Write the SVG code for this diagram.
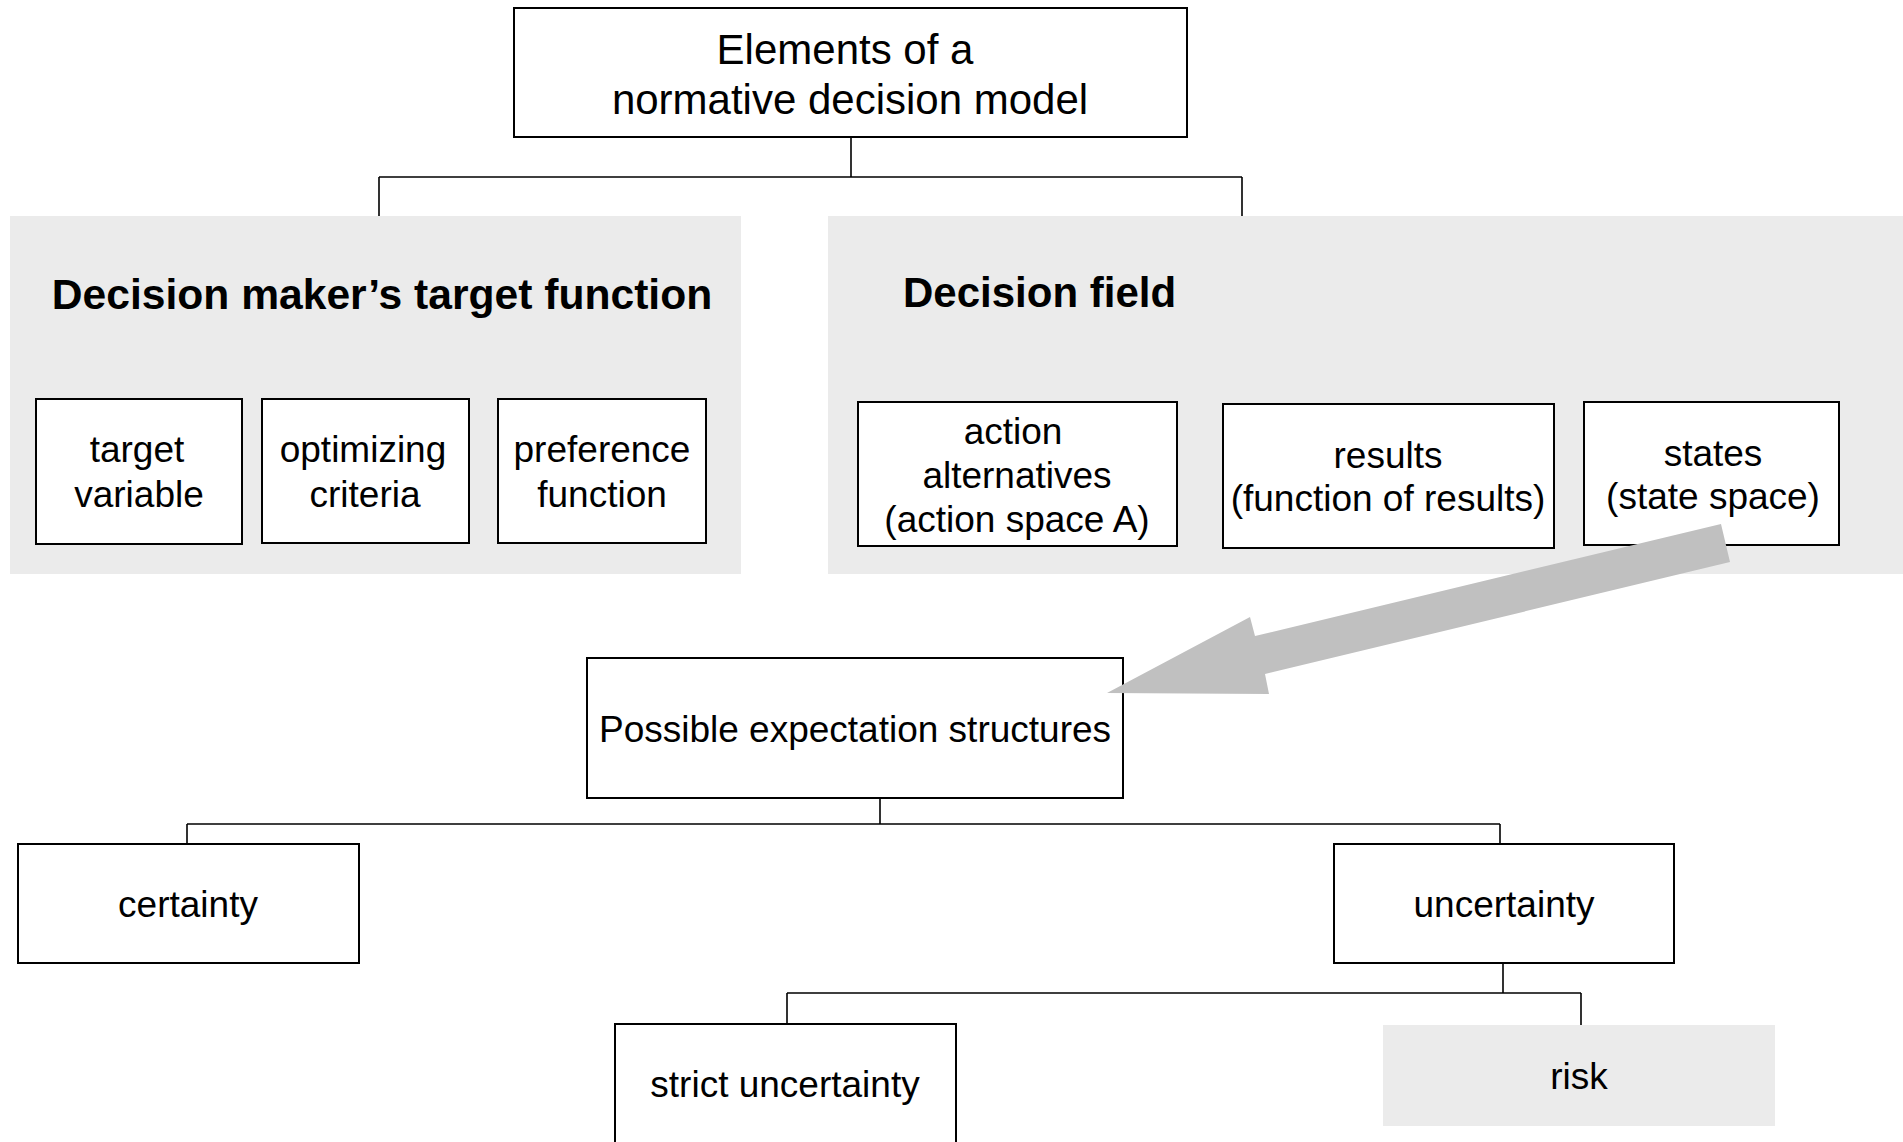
<svg xmlns="http://www.w3.org/2000/svg" width="1903" height="1142" viewBox="0 0 1903 1142">
<style>
.bg{fill:#ffffff}
.box{fill:#ffffff;stroke:#000000;stroke-width:2}
.panel{fill:#ebebeb;stroke:none}
.t{font-family:"Liberation Sans",Arial,sans-serif;font-size:37px;fill:#000000;text-anchor:middle}
.big{font-family:"Liberation Sans",Arial,sans-serif;font-size:42px;fill:#000000;text-anchor:middle}
.title{font-family:"Liberation Sans",Arial,sans-serif;font-size:42px;font-weight:bold;fill:#000000}
.line{fill:none;stroke:#000000;stroke-width:1.6}
.arrow{fill:#c0c0c0;stroke:none}
</style>
<rect class="bg" x="0" y="0" width="1903" height="1142"/>

<g id="connectors">
  <path class="line" d="M851,137 V177 M379,177 H1242 M379,177 V216 M1242,177 V216"/>
  <path class="line" d="M880,798 V824 M187,824 H1500 M187,824 V844 M1500,824 V844"/>
  <path class="line" d="M1503,963 V993 M787,993 H1581 M787,993 V1024 M1581,993 V1025"/>
</g>

<g id="node-root">
  <rect class="box" x="514" y="8" width="673" height="129"/>
  <text class="big" x="845" y="64">Elements of a</text>
  <text class="big" x="850" y="114">normative decision model</text>
</g>

<g id="node-target-function">
  <rect class="panel" x="10" y="216" width="731" height="358"/>
  <text class="title" x="382" y="309" text-anchor="middle" style="font-size:42.6px">Decision maker’s target function</text>
</g>
<g id="node-target-variable">
  <rect class="box" x="36" y="399" width="206" height="145"/>
  <text class="t" x="137" y="462">target </text>
  <text class="t" x="139" y="507">variable</text>
</g>
<g id="node-optimizing-criteria">
  <rect class="box" x="262" y="399" width="207" height="144"/>
  <text class="t" x="363" y="462">optimizing </text>
  <text class="t" x="365" y="507">criteria</text>
</g>
<g id="node-preference-function">
  <rect class="box" x="498" y="399" width="208" height="144"/>
  <text class="t" x="602" y="462">preference</text>
  <text class="t" x="602" y="507">function</text>
</g>

<g id="node-decision-field">
  <rect class="panel" x="828" y="216" width="1075" height="358"/>
  <text class="title" x="903" y="307">Decision field</text>
</g>
<g id="node-action-alternatives">
  <rect class="box" x="858" y="402" width="319" height="144"/>
  <text class="t" x="1013" y="444">action </text>
  <text class="t" x="1017" y="488">alternatives</text>
  <text class="t" x="1017" y="532">(action space A)</text>
</g>
<g id="node-results">
  <rect class="box" x="1223" y="404" width="331" height="144"/>
  <text class="t" x="1388" y="468">results</text>
  <text class="t" x="1388" y="511">(function of results)</text>
</g>
<g id="node-states">
  <rect class="box" x="1584" y="402" width="255" height="143"/>
  <text class="t" x="1713" y="466">states</text>
  <text class="t" x="1713" y="509">(state space)</text>
</g>

<g id="node-expectation-structures">
  <rect class="box" x="587" y="658" width="536" height="140"/>
  <text class="t" x="855" y="742">Possible expectation structures</text>
</g>
<g id="node-certainty">
  <rect class="box" x="18" y="844" width="341" height="119"/>
  <text class="t" x="188" y="917">certainty</text>
</g>
<g id="node-uncertainty">
  <rect class="box" x="1334" y="844" width="340" height="119"/>
  <text class="t" x="1504" y="917">uncertainty</text>
</g>
<g id="node-strict-uncertainty">
  <rect class="box" x="615" y="1024" width="341" height="130"/>
  <text class="t" x="785" y="1097">strict uncertainty</text>
</g>
<g id="node-risk">
  <rect class="panel" x="1383" y="1025" width="392" height="101"/>
  <text class="t" x="1579" y="1089">risk</text>
</g>

<g id="arrow-connector">
  <polygon class="arrow" points="1107,693 1250,617 1255,636 1721,524 1730,562 1265,674 1269,694"/>
</g>
</svg>
